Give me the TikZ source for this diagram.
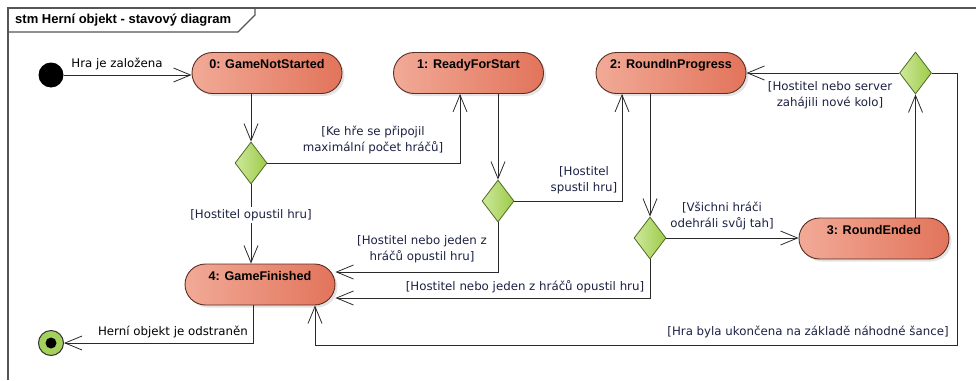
\documentclass[tikz,border=0pt]{standalone}
\usepackage{fontspec}
\setmainfont{DejaVu Sans}
\newfontfamily\boldface{Liberation Sans}[BoldFont={* Bold}]
\usetikzlibrary{arrows.meta,shapes.geometric,shadows,calc}

\definecolor{stateL}{HTML}{F1AA97}
\definecolor{stateR}{HTML}{E2745B}
\definecolor{stateEdge}{HTML}{5A2E22}
\definecolor{decL}{HTML}{CFE89C}
\definecolor{decR}{HTML}{9DCB4A}
\definecolor{decEdge}{HTML}{4E6B22}
\definecolor{guard}{HTML}{1C2142}
\definecolor{wire}{HTML}{2A2A2A}
\definecolor{frameLine}{HTML}{555555}
\definecolor{finGreen}{HTML}{A4D05C}

\begin{document}
\begin{tikzpicture}[x=1pt,y=-1pt,
  state/.style={rectangle, rounded corners=20.5pt, minimum width=150pt,
    minimum height=41pt, left color=stateL, right color=stateR,
    draw=stateEdge, line width=0.9pt, inner sep=0pt,
    font=\boldface\bfseries\fontsize{12.6}{14}\selectfont,
    text height=9pt, text depth=18pt,
    drop shadow={shadow xshift=2.5pt, shadow yshift=-2.5pt, opacity=0.22}},
  decision/.style={diamond, minimum width=32pt, minimum height=42pt,
    inner sep=0pt, left color=decL, right color=decR, draw=decEdge,
    line width=0.8pt},
  flow/.style={draw=wire, line width=0.8pt,
    -{Straight Barb[length=17pt,width=14pt,line width=0.8pt]}},
  guardtext/.style={text=guard, align=center, inner sep=1pt,
    font=\fontsize{11.8}{16}\selectfont},
  plaintext/.style={text=black, inner sep=1pt,
    font=\fontsize{11.8}{16}\selectfont},
  framepen/.style={draw=frameLine, line width=1.1pt}
]
\useasboundingbox (0,0) rectangle (976,380);

% diagram frame and its name tab
\draw[framepen] (8,380) -- (8,8) -- (976,8);
\draw[framepen] (8,32) -- (238,32) -- (255,15) -- (255,8);
\node[anchor=west, inner sep=0pt,
  font=\boldface\bfseries\fontsize{13}{15}\selectfont] (title) at (15,20.5)
  {stm Herní objekt - stavový diagram};

% pseudo states
\node[circle, fill=black, minimum size=25pt, inner sep=0pt] (init) at (51,75) {};
\node[circle, fill=finGreen, draw=black!80, line width=1pt,
  minimum size=25pt, inner sep=0pt] (fin) at (51,343) {};
\node[circle, fill=black, minimum size=11pt, inner sep=0pt] (finDot) at (fin) {};

% states
\node[state] (s0) at (267,73)   {0: GameNotStarted};
\node[state] (s1) at (468.5,73) {1: ReadyForStart};
\node[state] (s2) at (671,73)   {2: RoundInProgress};
\node[state] (s3) at (874,238.5) {3: RoundEnded};
\node[state] (s4) at (260,284.5) {4: GameFinished};

% decisions
\node[decision] (d1) at (251,163) {};
\node[decision] (d2) at (498,201) {};
\node[decision] (d3) at (650,238) {};
\node[decision] (d4) at (915.5,73) {};

% loop corners on the right side
\coordinate (loopTop) at (957,73);
\coordinate (loopBot) at (957,345);

% transitions
\draw[flow] (init) -- (init -| s0.west);
\draw[flow] (s0.south -| d1.north) -- (d1.north);
\draw[flow] (d1.east) -| ($(s1.south)+(-8.5,0)$);
\draw[flow] (d1.south) -- (d1.south |- s4.north);
\draw[flow] (s1.south -| d2.north) -- (d2.north);
\draw[flow] (d2.east) -| ($(s2.south)+(-49,0)$);
\draw[flow] (d2.south) |- ($(s4.east)+(0,-12.5)$);
\draw[flow] (s2.south -| d3.north) -- (d3.north);
\draw[flow] (d3.east) -- (d3.east -| s3.west);
\draw[flow] (d3.south) |- ($(s4.east)+(0,13.5)$);
\draw[flow] (s3.north -| d4.south) -- (d4.south);
\draw[flow] (d4.west) -- (d4.west -| s2.east);
\draw[flow] (d4.east) -- (loopTop) -- (loopBot) -| ($(s4.south)+(55,0)$);
\draw[flow] ($(s4.south)+(-7,0)$) |- (fin.east);

% transition labels
\node[plaintext] (lStart) at (117,64) {Hra je založena};
\node[guardtext] (lMax) at (373,140)
  {[Ke hře se připojil\\maximální počet hráčů]};
\node[guardtext, fill=white, inner sep=2pt] (lLeft) at (251,215)
  {[Hostitel opustil hru]};
\node[guardtext] (lRun) at (584,180) {[Hostitel\\spustil hru]};
\node[guardtext] (lQuit1) at (422,249)
  {[Hostitel nebo jeden z\\hráčů opustil hru]};
\node[guardtext] (lAll) at (722,216)
  {[Všichni hráči\\odehráli svůj tah]};
\node[guardtext] (lQuit2) at (525,287)
  {[Hostitel nebo jeden z hráčů opustil hru]};
\node[guardtext] (lNew) at (830,95)
  {[Hostitel nebo server\\zahájili nové kolo]};
\node[guardtext] (lChance) at (808,332)
  {[Hra byla ukončena na základě náhodné šance]};
\node[plaintext] (lRemoved) at (173,332) {Herní objekt je odstraněn};
\end{tikzpicture}
\end{document}
